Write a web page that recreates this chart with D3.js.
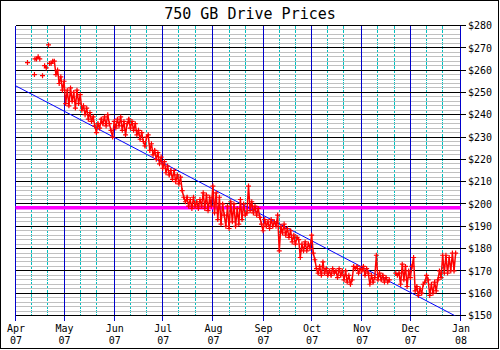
<!DOCTYPE html>
<html><head><meta charset="utf-8">
<script src="https://cdn.jsdelivr.net/npm/d3@7"></script>
<style>body{margin:0;background:#fff}svg{display:block}</style>
</head><body><svg id="c" width="500" height="350"></svg>
<script>
const title = "750 GB Drive Prices";
const startDate = "2007-04-01";
const endDate = "2008-01-01";
const monthTicks = ["2007-04-01","2007-05-01","2007-06-01","2007-07-01","2007-08-01","2007-09-01","2007-10-01","2007-11-01","2007-12-01","2008-01-01"];
const monthLabels = ["Apr","May","Jun","Jul","Aug","Sep","Oct","Nov","Dec","Jan"];
const yearLabels = ["07","07","07","07","07","07","07","07","07","08"];
const priceTicks = [150,160,170,180,190,200,210,220,230,240,250,260,270,280];
// one price per day, day 0 = 2007-04-01 (null = no reading)
const dailyPrices = [
 null,null,null,null,null,null,null,null,null,null,
 null,null,265,265,266,265,null,null,262,261,
 null,263,263,264,264,258,260,254,257,251,
 255,245,251,244,252,246,250,243,251,245,
 249,242,244,240,243,238,241,237,239,235,
 232,236,234,238,236,239,235,240,236,233,
 230,237,234,238,235,239,233,237,231,236,
 238,234,237,233,236,231,233,229,232,228,
 226,230,231,224,227,222,224,220,223,218,
 221,216,219,214,217,213,215,211,215,210,
 213,209,212,206,203,201,203,199,202,198,
 203,199,201,198,202,199,205,198,204,197,
 203,199,208,196,205,193,203,191,200,195,
 190,199,189,201,192,200,190,198,191,202,
 193,200,195,196,208,197,201,196,199,195,
 198,194,191,188,193,190,192,189,193,190,
 192,190,195,179,190,187,191,186,189,185,
 188,183,186,182,185,184,176,182,179,183,
 179,182,180,186,178,175,171,169,172,168,
 174,169,171,168,170,168,171,169,170,167,
 171,168,170,166,170,165,168,164,166,172,
 171,172,169,171,170,172,168,171,169,164,
 168,165,167,177,166,169,166,168,165,167,
 165,166,null,null,null,169,168,169,164,173,
 166,172,163,170,167,172,176,161,163,159,
 162,160,164,165,168,166,159,164,160,165,
 161,166,170,167,177,169,177,169,176,170,
 178,170,178,null,null
];
// isolated readings (days after 2007-04-01)
const isolatedDays = [7.4, 11.7, 16.7, 20.4];
const isolatedPrices = [263.4, 258, 257.5, 271.3];
const trendStart = 253.0, trendEnd = 148.6;
const averagePrice = 198.3;

const svg = d3.select("#c");
const W = 500, H = 350;
const L = 15.5, R = 460.5, T = 25.5, B = 315.5;
const parse = d3.utcParse("%Y-%m-%d");
const t0 = parse(startDate), t1 = parse(endDate);
const x = d3.scaleUtc().domain([t0, t1]).range([L, R]);
const y = d3.scaleLinear().domain([150, 280]).range([B, T]);
const mono = "'DejaVu Sans Mono', monospace";

svg.append("rect").attr("width", W).attr("height", H).attr("fill", "#fff");
svg.append("rect").attr("x", 0.5).attr("y", 0.5).attr("width", 498).attr("height", 348)
  .attr("fill", "none").attr("stroke", "#000");

svg.append("text").attr("x", 250).attr("y", 18.5).attr("text-anchor", "middle")
  .attr("font-family", mono).attr("font-size", 15).text(title);

const grid = svg.append("g").attr("shape-rendering", "crispEdges");
const months = monthTicks.map(parse);
// cyan minor verticals on the 11th and 21st
const minorDates = [];
months.slice(0, -1).forEach(m => { minorDates.push(d3.utcDay.offset(m, 10)); minorDates.push(d3.utcDay.offset(m, 20)); });
grid.selectAll(".cy").data(minorDates).join("line")
  .attr("x1", d => Math.round(x(d) - 0.5) + 0.5).attr("x2", d => Math.round(x(d) - 0.5) + 0.5)
  .attr("y1", T).attr("y2", B).attr("stroke", "#00c0c0").attr("stroke-dasharray", "3,1");
// gray minor horizontals every $2
const minorPrices = d3.range(150, 281, 2);
grid.selectAll(".gr").data(minorPrices).join("line")
  .attr("x1", L).attr("x2", R)
  .attr("y1", d => Math.round(y(d) - 0.5) + 0.5).attr("y2", d => Math.round(y(d) - 0.5) + 0.5)
  .attr("stroke", "#c0c0c0");
// blue month verticals (extend below plot as ticks)
grid.selectAll(".bl").data(months).join("line")
  .attr("x1", d => Math.round(x(d) - 0.5) + 0.5).attr("x2", d => Math.round(x(d) - 0.5) + 0.5)
  .attr("y1", T).attr("y2", B + 5).attr("stroke", "#0000cc");
// black major horizontals (extend right as ticks)
grid.selectAll(".bk").data(priceTicks).join("line")
  .attr("x1", L).attr("x2", R + 5)
  .attr("y1", d => Math.round(y(d) - 0.5) + 0.5).attr("y2", d => Math.round(y(d) - 0.5) + 0.5)
  .attr("stroke", "#000");

// right axis labels
const yAxis = d3.axisRight(y).tickValues(priceTicks).tickSize(0).tickPadding(7.5).tickFormat(d => "$" + d);
const ya = svg.append("g").attr("transform", `translate(${R},0)`).call(yAxis);
ya.select(".domain").remove();
ya.selectAll("text").attr("font-family", mono).attr("font-size", 10).attr("fill", "#000");

// bottom axis labels
const xAxis = d3.axisBottom(x).tickValues(months).tickSize(0).tickFormat("");
const xa = svg.append("g").attr("transform", `translate(0,${B})`).call(xAxis);
xa.select(".domain").remove();
xa.selectAll(".tick text").each(function(d, i) {
  const t = d3.select(this).attr("y", null).attr("dy", null)
    .attr("font-family", mono).attr("font-size", 10).attr("fill", "#000");
  t.append("tspan").attr("x", 0).attr("y", 16).text(monthLabels[i]);
  t.append("tspan").attr("x", 0).attr("y", 28).text(yearLabels[i]);
});

svg.append("defs").append("clipPath").attr("id", "clip")
  .append("rect").attr("x", L).attr("y", T).attr("width", R - L).attr("height", B - T);

// average line
svg.append("line").attr("x1", L).attr("x2", R).attr("y1", y(averagePrice)).attr("y2", y(averagePrice))
  .attr("stroke", "#ff00ff").attr("stroke-width", 3.5);

// trend line
svg.append("path").attr("clip-path", "url(#clip)")
  .datum([[t0, trendStart], [t1, trendEnd]])
  .attr("d", d3.line().x(d => x(d[0])).y(d => y(d[1])))
  .attr("stroke", "#0000ff").attr("fill", "none").attr("stroke-width", 1);

// price series
const series = dailyPrices.map((p, i) => ({ t: d3.utcDay.offset(t0, i), p }));
const pts = series.filter(d => d.p != null)
  .concat(isolatedDays.map((d, i) => ({ t: new Date(t0.getTime() + d * 864e5), p: isolatedPrices[i] })));
svg.append("path").datum(series)
  .attr("d", d3.line().defined(d => d.p != null).x(d => x(d.t)).y(d => y(d.p)))
  .attr("stroke", "#ff0000").attr("fill", "none").attr("stroke-width", 1.5);
svg.append("path")
  .attr("d", pts.map(d => { const px = x(d.t), py = y(d.p); return `M${px - 2.5},${py}H${px + 2.5}M${px},${py - 2.5}V${py + 2.5}`; }).join(""))
  .attr("stroke", "#ff0000").attr("fill", "none").attr("stroke-width", 1.2);
</script></body></html>
